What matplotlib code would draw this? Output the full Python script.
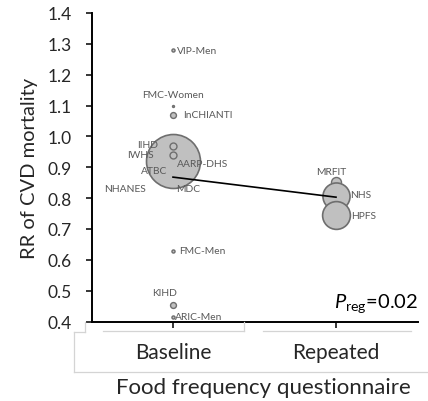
import matplotlib
matplotlib.use("Agg")
import matplotlib.pyplot as plt
from matplotlib.lines import Line2D

plt.rcParams["font.family"] = ["Lato", "DejaVu Sans"]
plt.rcParams["mathtext.fontset"] = "custom"
plt.rcParams["mathtext.rm"] = "Lato"
plt.rcParams["mathtext.it"] = "Lato:italic"

# study-level relative risks, by how intake was assessed
baseline_studies = ["VIP-Men", "FMC-Women", "InCHIANTI", "IIHD", "IWHS", "ATBC",
                    "MDC", "NHANES", "AARP-DHS", "FMC-Men", "KIHD", "ARIC-Men"]
baseline_rr = [1.28, 1.10, 1.07, 0.97, 0.94, 0.89, 0.87, 0.86, 0.92, 0.63, 0.455, 0.416]
baseline_weight = [5, 2, 18, 25, 25, 10, 10, 10, 1510, 5, 18, 5]

repeated_studies = ["MRFIT", "NHS", "HPFS"]
repeated_rr = [0.851, 0.806, 0.744]
repeated_weight = [52, 380, 400]

categories = ["Baseline", "Repeated"]
fit_rr = [0.868, 0.803]
p_reg = "0.02"

# label placement (pixel offsets from each point, and alignment)
baseline_offsets = [(4, 0, "left"), (0, 11, "center"), (10, 0, "left"),
                    (-15, 1, "right"), (-19, 0, "right"), (-6, 0, "right"),
                    (3, -12, "left"), (-27, -9, "right"), (4, -2, "left"),
                    (6, 0, "left"), (-8, 12, "center"), (2, 0, "left")]
repeated_offsets = [(-5, 11, "center"), (14, 2, "left"), (15, 0, "left")]

W, H = 428, 402
fig = plt.figure(figsize=(W / 100, H / 100), dpi=100)
ax = fig.add_axes([91.5 / W, 1 - 322.5 / H, 326 / W, 308.5 / H])

fill, edge, txt = "#c0c0c0", "#6e6e6e", "#595959"


def draw_group(xpos, names, rr, weight, offsets):
    for name, r, w, (dx, dy, ha) in zip(names, rr, weight, offsets):
        z = 2 if w > 1000 else (1 if name in ("ATBC", "MDC", "NHANES") else 3)
        ax.scatter([xpos], [r], s=w, color=fill, edgecolor=edge,
                   linewidth=1.2 if w > 100 else 1.0, zorder=z)
        ax.annotate(name, (xpos, r), xytext=(dx * 0.72, dy * 0.72),
                    textcoords="offset points", ha=ha, va="center",
                    fontsize=7.4, color=txt, zorder=5)


draw_group(1, baseline_studies, baseline_rr, baseline_weight, baseline_offsets)
draw_group(2, repeated_studies, repeated_rr, repeated_weight, repeated_offsets)

ax.plot([1, 2], fit_rr, color="black", linewidth=1.2, zorder=4)

ax.set_xlim(0.5, 2.5)
ax.set_ylim(0.4, 1.4)
ax.set_yticks([0.4 + 0.1 * i for i in range(11)])
ax.set_yticklabels([f"{0.4 + 0.1 * i:.1f}" for i in range(11)])
ax.set_xticks([1, 2])
ax.set_xticklabels([])
ax.spines["top"].set_visible(False)
ax.spines["right"].set_visible(False)
for s in ("left", "bottom"):
    ax.spines[s].set_linewidth(1.4)
ax.tick_params(axis="y", length=4, width=1.1, pad=10, labelsize=12.5,
               labelcolor="#262626")
ax.tick_params(axis="x", length=4, width=1.1)
ax.set_ylabel("RR of CVD mortality", fontsize=14.5, color="#262626", labelpad=7)

ax.text(418 / W, 1 - 308 / H, rf"$\mathit{{P}}_{{\mathrm{{reg}}}}$={p_reg}",
        transform=fig.transFigure, ha="right", va="baseline", fontsize=14.5)


def px_line(x0, y0, x1, y1):
    fig.add_artist(Line2D([x0 / W, x1 / W], [1 - y0 / H, 1 - y1 / H],
                          color="#d4d4d4", linewidth=0.9))


# category box under the axis
px_line(74, 333, 74, 373)
px_line(74, 373, 428, 373)
px_line(74, 333, 85, 333)
px_line(85, 323, 85, 333)
px_line(103, 332, 244, 332)
px_line(244, 323, 244, 332)
px_line(263, 332, 411, 332)

for i, cat in enumerate(categories):
    x_fig = ax.transData.transform((i + 1, 0))[0] / fig.dpi / (W / 100)
    fig.text(x_fig, 1 - 353 / H, cat, ha="center", va="center",
             fontsize=15, color="#262626")

fig.text(263 / W, 1 - 388 / H, "Food frequency questionnaire",
         ha="center", va="center", fontsize=16, color="#262626")

fig.savefig("out.png", dpi=100)
